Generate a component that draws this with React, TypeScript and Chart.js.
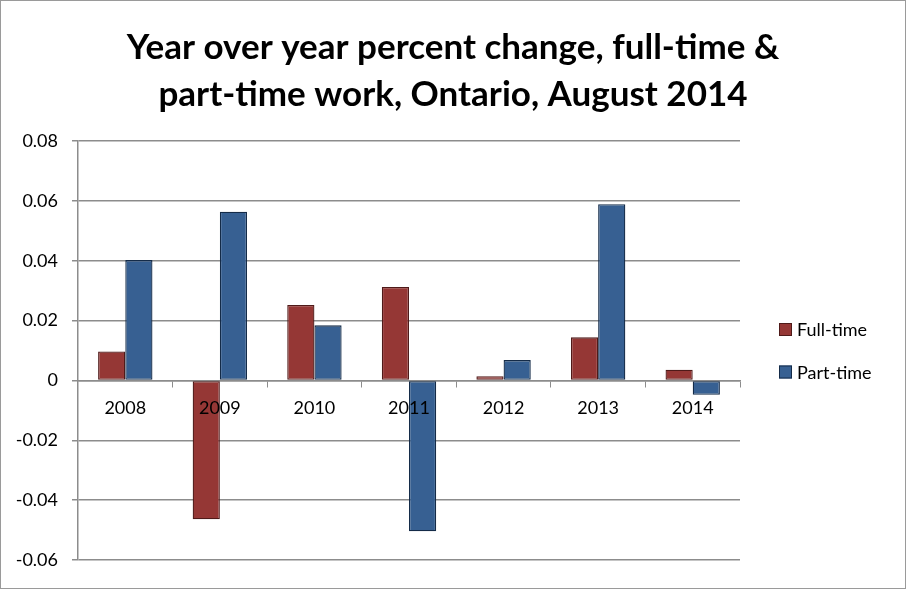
import React, { useEffect, useRef } from "react";
import { Chart, registerables } from "chart.js";

Chart.register(...registerables);

const years = ["2008", "2009", "2010", "2011", "2012", "2013", "2014"];
const fullTime = [0.0097, -0.0464, 0.0252, 0.0312, 0.0014, 0.0144, 0.0036];
const partTime = [0.0402, 0.0564, 0.0184, -0.0504, 0.0068, 0.0589, -0.0048];
const titleLines = ["Year over year percent change, full-time &", "part-time work, Ontario, August 2014"];
const seriesNames = ["Full-time", "Part-time"];

const FONT = "Lato, 'DejaVu Sans', sans-serif";

const legendPlugin = {
  id: "customLegend",
  afterDraw(chart: any) {
    const ctx = chart.ctx;
    ctx.save();
    const x = 779;
    const ys = [329.5, 372];
    chart.data.datasets.forEach((ds: any, i: number) => {
      const y = ys[i];
      ctx.fillStyle = ds.backgroundColor;
      ctx.fillRect(x, y - 6.5, 13, 13);
      ctx.strokeStyle = ds.borderColor;
      ctx.lineWidth = 1;
      ctx.strokeRect(x + 0.5, y - 6, 12, 12);
      ctx.fillStyle = "#000";
      ctx.font = "18px " + FONT;
      ctx.textBaseline = "middle";
      ctx.textAlign = "left";
      ctx.fillText(ds.label, 797, y + 1);
    });
    ctx.restore();
  },
};

const titlePlugin = {
  id: "customTitle",
  afterDraw(chart: any) {
    const ctx = chart.ctx;
    ctx.save();
    ctx.fillStyle = "#000";
    ctx.font = "bold 35px " + FONT;
    ctx.textAlign = "center";
    ctx.textBaseline = "middle";
    titleLines.forEach((line, i) => {
      ctx.fillText(line, chart.width / 2, 48 + i * 47);
    });
    ctx.restore();
  },
};

const framePlugin = {
  id: "frame",
  beforeDraw(chart: any) {
    const ctx = chart.ctx;
    ctx.save();
    ctx.fillStyle = "#fff";
    ctx.fillRect(0, 0, chart.width, chart.height);
    ctx.restore();
  },
  afterDraw(chart: any) {
    const ctx = chart.ctx;
    ctx.save();
    ctx.strokeStyle = "#9a9a9a";
    ctx.lineWidth = 1;
    ctx.strokeRect(0.5, 0.5, chart.width - 1, chart.height - 1);
    ctx.restore();
  },
};

export default function App() {
  const ref = useRef<HTMLCanvasElement>(null);
  useEffect(() => {
    const chart = new Chart(ref.current!, {
      type: "bar",
      data: {
        labels: years,
        datasets: [
          {
            label: seriesNames[0],
            data: fullTime,
            backgroundColor: "#953735",
            borderColor: "#4f1a19",
            borderWidth: 1.3,
            borderSkipped: false,
          },
          {
            label: seriesNames[1],
            data: partTime,
            backgroundColor: "#376092",
            borderColor: "#142b48",
            borderWidth: 1.3,
            borderSkipped: false,
          },
        ],
      },
      options: {
        animation: false,
        responsive: false,
        maintainAspectRatio: false,
        devicePixelRatio: 1,
        layout: { padding: { left: 0, right: 166, bottom: 29, top: 141 } },
        datasets: { bar: { categoryPercentage: 0.575, barPercentage: 1 } },
        plugins: {
          legend: { display: false },
          tooltip: { enabled: false },
          title: { display: false },
        },
        scales: {
          x: {
            position: { y: 0 } as any,
            grid: { drawOnChartArea: false, drawTicks: true, tickLength: 6, color: "#8c8c8c", offset: true },
            border: { display: true, color: "#8c8c8c", width: 1.5 },
            ticks: { color: "#000", font: { family: FONT, size: 18 }, padding: 11, z: 1 } as any,
          },
          y: {
            min: -0.06,
            max: 0.08,
            afterFit(scale: any) {
              scale.width = 78;
            },
            grid: { color: "#8c8c8c", lineWidth: 1.5, tickLength: 6, drawTicks: true },
            border: { display: true, color: "#8c8c8c", width: 1.5 },
            ticks: {
              stepSize: 0.02,
              color: "#000",
              font: { family: FONT, size: 18 },
              padding: 14,
              callback: (v: any) => (Math.abs(Number(v)) < 1e-9 ? "0" : Number(v).toFixed(2)),
            },
          },
        },
      },
      plugins: [framePlugin, titlePlugin, legendPlugin],
    });
    return () => chart.destroy();
  }, []);
  return (
    <div style={{ position: "fixed", left: 0, top: 0, width: 906, height: 589, background: "#fff" }}>
      <canvas ref={ref} width={906} height={589} style={{ display: "block" }} />
    </div>
  );
}
